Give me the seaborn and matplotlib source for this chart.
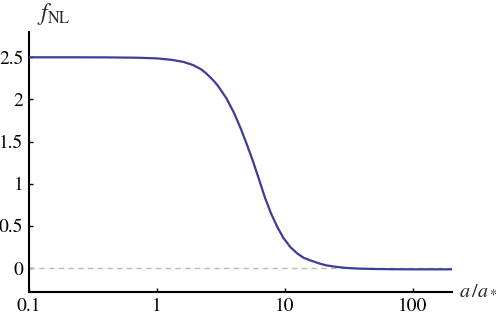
import matplotlib
matplotlib.use("Agg")
import matplotlib.pyplot as plt
import seaborn as sns
import pandas as pd

# values
a_ratio = [0.1, 0.2, 0.4, 0.7, 1.0, 1.3, 1.6, 1.9, 2.2, 2.4, 2.6, 2.8, 3.0,
           3.5, 4.0, 4.5, 5.0, 5.6, 6.2, 7.0, 7.8, 8.7, 9.7, 11, 12.5, 14, 16,
           18.5, 21, 25, 30, 38, 50, 70, 100, 150, 200]
f_nl = [2.5, 2.5, 2.499, 2.495, 2.487, 2.47, 2.446, 2.41, 2.36, 2.315, 2.265,
        2.215, 2.16, 2.01, 1.84, 1.66, 1.48, 1.275, 1.075, 0.83, 0.645, 0.49,
        0.36, 0.25, 0.172, 0.122, 0.088, 0.055, 0.032, 0.015, 0.002, -0.007,
        -0.011, -0.014, -0.015, -0.015, -0.015]
x_ticks = [0.1, 1, 10, 100]
x_labels = ["0.1", "1", "10", "100"]
y_ticks = [0, 0.5, 1, 1.5, 2, 2.5]
y_labels = ["0", "0.5", "1", "1.5", "2", "2.5"]

df = pd.DataFrame({"a": a_ratio, "f": f_nl})

sns.set_style("ticks")
plt.rcParams["font.family"] = ["STIXGeneral", "Liberation Serif", "DejaVu Serif"]
plt.rcParams["mathtext.fontset"] = "stix"

fig = plt.figure(figsize=(4.98, 3.2), dpi=100)
ax = fig.add_axes([29 / 498, 28 / 320, 423 / 498, 260 / 320])

ax.axhline(0, color="#bbbbbb", lw=1, ls=(0, (4, 3)), zorder=1)
sns.lineplot(data=df, x="a", y="f", ax=ax, color="#3d3d99", lw=1.6, zorder=3)

ax.set_xscale("log")
ax.set_xlim(0.1, 202)
ax.set_ylim(-0.284, 2.8)
ax.set_xticks(x_ticks)
ax.set_xticklabels(x_labels)
ax.set_yticks(y_ticks)
ax.set_yticklabels(y_labels)
ax.minorticks_off()
ax.tick_params(direction="in", length=3, width=1, labelsize=14, pad=4, colors="black")
ax.set_xlabel("")
ax.set_ylabel("")

for s in ["top", "right"]:
    ax.spines[s].set_visible(False)
for s in ["left", "bottom"]:
    ax.spines[s].set_linewidth(1.5)
    ax.spines[s].set_color("black")

fig.text(37 / 498, 1 - 14 / 320, r"$f_{\mathrm{NL}}$", fontsize=17, ha="left", va="center")
fig.text(459 / 498, 1 - 290 / 320, r"$a\,/a_*$", fontsize=14.5, ha="left", va="center")

fig.savefig("out.png", dpi=100)
